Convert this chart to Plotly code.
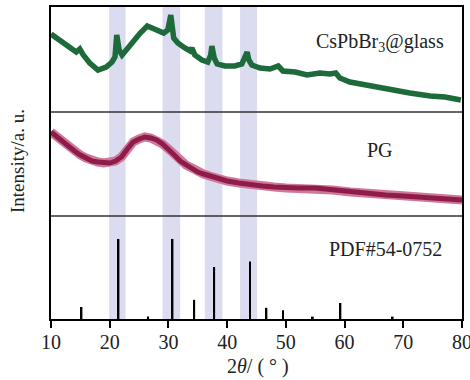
import plotly.graph_objects as go

# ---------------- data ----------------
# CsPbBr3@glass (top pattern), 2theta in degrees, intensity in a.u. (offset for stacking)
glass_tt = [10.0, 11.5, 13.2, 14.3, 14.9, 15.5, 16.6, 18.0, 19.4, 20.4, 20.9, 21.2, 21.6, 22.1,
            23.1, 24.1, 25.2, 26.4, 27.2, 28.2, 29.2, 29.9, 30.4, 30.9, 31.6, 32.8, 33.7, 34.0,
            34.5, 35.7, 36.7, 37.2, 37.4, 37.8, 38.3, 39.6, 41.3, 42.5, 43.2, 43.4, 43.7, 44.2,
            45.6, 47.3, 48.7, 49.5, 51.6, 53.6, 55.8, 57.5, 58.5, 59.2, 60.9, 64.3, 67.7, 71.1,
            74.6, 77.1, 79.8]
glass_int = [285, 279, 272, 267, 270, 264, 256, 249, 252, 257, 262, 284, 269, 264,
             271, 279, 286, 293, 291, 289, 286, 289, 304, 281, 276, 271, 268, 271,
             264, 259, 257, 264, 273, 261, 255, 253, 253, 255, 265, 267, 259, 254,
             251, 250, 253, 248, 247, 244, 246, 245, 246, 241, 237, 233, 230, 226,
             223, 222, 219]

# PG (middle pattern)
pg_tt = [10, 11, 12, 13, 14, 15, 16, 17, 18, 19, 20, 21, 22, 23, 24, 25, 26, 27, 28, 29, 30,
         31, 32, 33, 34, 35, 36, 37, 38, 40, 42, 44, 46, 48, 50, 52, 55, 58, 61, 64, 67, 70,
         73, 76, 80]
pg_int = [187, 182, 177, 172, 168, 164, 161, 158, 157, 156, 156, 158, 162, 170, 177, 180, 182,
          181, 179, 175, 170, 164, 158, 154, 151, 147, 145, 143, 141, 138, 136, 134, 133, 132,
          131, 131, 131, 129, 127, 126, 124, 123, 122, 121, 119]

# PDF#54-0752 reference lines (relative intensity)
pdf_tt = [15.2, 21.5, 26.5, 30.7, 34.4, 37.8, 43.9, 46.7, 49.5, 54.6, 59.3, 68.2]
pdf_int = [15, 100, 3, 100, 24, 65, 72, 14, 11, 3, 20, 3]

# highlighted 2theta ranges
bands = [(19.9, 22.7), (29.0, 32.0), (36.2, 39.2), (42.2, 45.1)]

x_ticks = [10, 20, 30, 40, 50, 60, 70, 80]
labels = [("CsPbBr<sub>3</sub>@glass", 66.0, 277), ("PG", 66.0, 169), ("PDF#54-0752", 66.9, 70)]
separators = [103, 207]

FONT = "Liberation Serif"

fig = go.Figure()

fig.add_trace(go.Scatter(x=pg_tt, y=pg_int, mode="lines",
                         line=dict(color="#cf7899", width=9), hoverinfo="skip"))
fig.add_trace(go.Scatter(x=pg_tt, y=pg_int, mode="lines",
                         line=dict(color="#8e1c4a", width=5)))
fig.add_trace(go.Scatter(x=glass_tt, y=glass_int, mode="lines",
                         line=dict(color="#1d6b3b", width=5.5)))
fig.add_trace(go.Bar(x=pdf_tt, y=pdf_int, width=0.3, marker=dict(color="black", line=dict(width=0)),
                     yaxis="y2"))

for a, b in bands:
    fig.add_shape(type="rect", xref="x", yref="paper", x0=a, x1=b, y0=0, y1=1,
                  fillcolor="#dcdcf0", line=dict(width=0), layer="below")
for s in separators:
    fig.add_shape(type="line", xref="paper", yref="y", x0=0, x1=1, y0=s, y1=s,
                  line=dict(color="#333333", width=1.3))

for txt, xx, yy in labels:
    fig.add_annotation(text=txt, x=xx, y=yy, xref="x", yref="y", showarrow=False,
                       xanchor="center", yanchor="middle",
                       font=dict(family=FONT, size=20, color="#222"))

fig.add_annotation(text="2<i>θ</i>/ ( ° )", x=(257.5 - 51) / 411, y=(319 - 366) / 312,
                   xref="paper", yref="paper", xanchor="center", yanchor="middle",
                   showarrow=False, font=dict(family=FONT, size=20, color="#222"))
fig.add_annotation(text="Intensity/a. u.", x=(17 - 51) / 411, y=(319 - 161) / 312,
                   xref="paper", yref="paper", xanchor="center", yanchor="middle",
                   showarrow=False, textangle=-90,
                   font=dict(family=FONT, size=19, color="#222"))

fig.update_layout(
    width=470, height=380,
    margin=dict(l=51, r=8, t=7, b=61, autoexpand=False),
    plot_bgcolor="white", paper_bgcolor="white",
    showlegend=False,
    xaxis=dict(range=[10, 80], tickvals=x_ticks, ticks="outside", ticklen=7, tickwidth=1.5,
               tickcolor="black", showline=True, linecolor="black", linewidth=2, mirror=True,
               showgrid=False, zeroline=False, ticklabeloverflow="allow", automargin=False,
               ticklabelstandoff=-3,
               tickfont=dict(family=FONT, size=20, color="#222")),
    yaxis=dict(range=[0, 312], showticklabels=False, ticks="", showline=True, linecolor="black",
               linewidth=2, mirror=True, showgrid=False, zeroline=False, automargin=False),
    yaxis2=dict(range=[0, 390], overlaying="y", visible=False),
)

fig.write_html("out.html")
